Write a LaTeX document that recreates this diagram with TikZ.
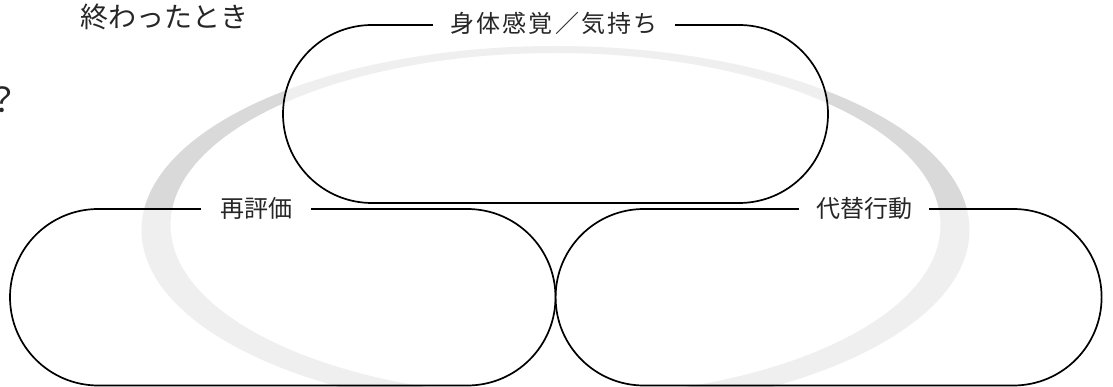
\documentclass[tikz,border=0pt]{standalone}
\usepackage{fontspec}
\newfontfamily\jp{Noto Sans CJK JP}
\usetikzlibrary{shapes.misc}
\begin{document}
\begin{tikzpicture}[x=1pt,y=-1pt,
  stadium/.style={rounded rectangle, draw=black, line width=1.7pt, fill=white, fill opacity=0.6, inner sep=0pt},
  tag/.style={fill=white, inner xsep=17pt, inner ysep=2pt, font=\jp\fontsize{24}{24}\selectfont, text=black!85},
  free/.style={inner sep=0pt, text=black!85}]
\useasboundingbox (0,0) rectangle (1113,387);
% grey ring
\fill[black!15, even odd rule] (555.5,230) ellipse [x radius=414pt, y radius=184pt]
  (555.5,225) ellipse [x radius=385pt, y radius=172pt];
% stadium boxes
\node[stadium, minimum width=545pt, minimum height=178pt] (top) at (555.5,114) {};
\node[stadium, minimum width=545.5pt, minimum height=176.5pt] (left) at (282.75,297.25) {};
\node[stadium, minimum width=546pt, minimum height=176.5pt] (right) at (828.6,297.25) {};
% labels on the borders
\node[tag] (ltop) at (554,23) {\addfontfeature{LetterSpace=9}身体感覚／気持ち};
\node[tag, inner xsep=19pt] (lleft) at (256,208) {再評価};
\node[tag] (lright) at (864,208) {代替行動};
% free texts
\node[free, font=\jp\fontsize{28}{28}\selectfont] (when) at (164,17) {終わったとき};
\node[free, font=\jp\fontsize{34}{34}\selectfont] (q) at (3,100) {？};
\end{tikzpicture}
\end{document}
